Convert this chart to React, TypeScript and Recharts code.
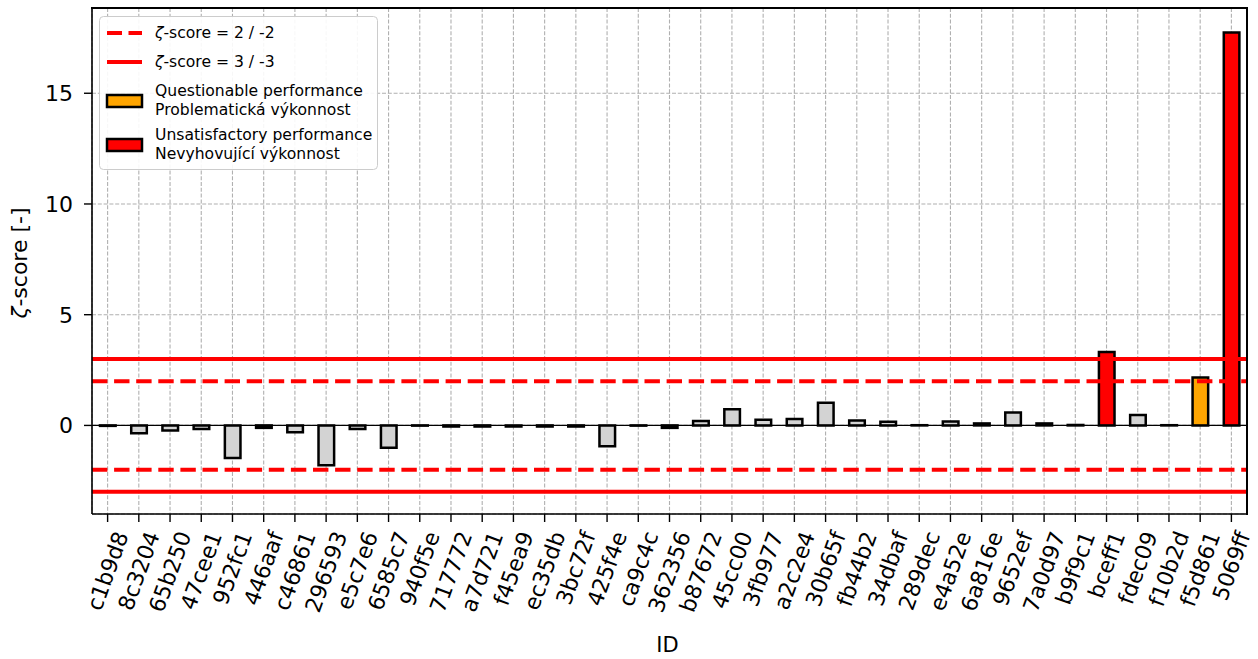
import React from "react";
import {
  BarChart,
  Bar,
  Cell,
  XAxis,
  YAxis,
  CartesianGrid,
  ReferenceLine,
  Legend,
  Label,
} from "recharts";

const ids = [
  "c1b9d8", "8c3204", "65b250", "47cee1", "952fc1", "446aaf", "c46861",
  "296593", "e5c7e6", "6585c7", "940f5e", "717772", "a7d721", "f45ea9",
  "ec35db", "3bc72f", "425f4e", "ca9c4c", "362356", "b87672", "45cc00",
  "3fb977", "a2c2e4", "30b65f", "fb44b2", "34dbaf", "289dec", "e4a52e",
  "6a816e", "9652ef", "7a0d97", "b9f9c1", "bceff1", "fdec09", "f10b2d",
  "f5d861", "5069ff",
];

const zScores = [
  -0.02, -0.35, -0.23, -0.16, -1.47, -0.11, -0.31, -1.8, -0.16, -1.01,
  -0.01, -0.05, -0.05, -0.05, -0.05, -0.05, -0.94, -0.01, -0.11, 0.2,
  0.73, 0.26, 0.29, 1.02, 0.22, 0.17, 0.01, 0.18, 0.09, 0.58, 0.09, 0.02,
  3.32, 0.47, 0.01, 2.16, 17.74,
];

const yTicks = [0, 5, 10, 15];
const yDomain = [-4.0, 18.85];
const warnLimit = 2;
const actionLimit = 3;

const data = ids.map((id, i) => ({ id, z: zScores[i] }));

const FONT = "'DejaVu Sans', sans-serif";
const RED = "#ff0000";
const ORANGE = "#ffa500";
const GREY = "#d3d3d3";

const W = 1258;
const H = 659;
const MARGIN = { top: 8, right: 11, bottom: 0, left: 0 };
const Y_AXIS_W = 92;
const X_AXIS_H = 145;

function barColor(z: number) {
  const a = Math.abs(z);
  if (a > actionLimit) return RED;
  if (a > warnLimit) return ORANGE;
  return GREY;
}

// rough DejaVu Sans advance widths (em) for hex labels
const charW: Record<string, number> = {
  a: 0.613, b: 0.635, c: 0.55, d: 0.635, e: 0.615, f: 0.352,
};
function textLen(s: string, fs: number) {
  let w = 0;
  for (const ch of s) w += charW[ch] ?? 0.636;
  return w * fs;
}

const TICK_FS = 22;

function XTick(props: any) {
  const { x, payload } = props;
  const label = String(payload.value);
  const L = textLen(label, TICK_FS);
  const h = 1.164 * TICK_FS;
  const ang = (70 * Math.PI) / 180;
  const bh = L * Math.sin(ang) + h * Math.cos(ang);
  const top = 528;
  const cy = top + bh / 2;
  return (
    <g transform={`translate(${x},${cy}) rotate(-70)`}>
      <text
        x={0}
        y={0.346 * TICK_FS}
        textAnchor="middle"
        fontSize={TICK_FS}
        fontFamily={FONT}
        fill="#000"
      >
        {label}
      </text>
    </g>
  );
}

function LegendBox() {
  const textStyle = { fontSize: 15.6, fontFamily: FONT, fill: "#000" } as const;
  return (
    <svg width={280} height={155} style={{ display: "block" }}>
      <rect
        x={0.5}
        y={0.5}
        width={278}
        height={153}
        rx={4}
        fill="rgba(255,255,255,0.9)"
        stroke="#cccccc"
      />
      <line x1={8} x2={43} y1={17} y2={17} stroke={RED} strokeWidth={4} strokeDasharray="15 6.5" />
      <text x={56} y={17} dy="0.35em" {...textStyle}>
        <tspan fontStyle="italic">ζ</tspan>-score = 2 / -2
      </text>
      <line x1={8} x2={43} y1={46} y2={46} stroke={RED} strokeWidth={4} />
      <text x={56} y={46} dy="0.35em" {...textStyle}>
        <tspan fontStyle="italic">ζ</tspan>-score = 3 / -3
      </text>
      <rect x={8} y={79} width={35} height={12} fill={ORANGE} stroke="#000" strokeWidth={2.5} />
      <text x={56} y={75} dy="0.35em" {...textStyle}>Questionable performance</text>
      <text x={56} y={94} dy="0.35em" {...textStyle}>Problematická výkonnost</text>
      <rect x={8} y={123} width={35} height={12} fill={RED} stroke="#000" strokeWidth={2.5} />
      <text x={56} y={119} dy="0.35em" {...textStyle}>Unsatisfactory performance</text>
      <text x={56} y={138} dy="0.35em" {...textStyle}>Nevyhovující výkonnost</text>
    </svg>
  );
}

export default function App() {
  const plotW = W - MARGIN.left - MARGIN.right - Y_AXIS_W;
  const plotH = H - MARGIN.top - MARGIN.bottom - X_AXIS_H;
  return (
    <div
      style={{
        position: "absolute",
        left: 0,
        top: 0,
        width: W,
        height: H,
        background: "#fff",
      }}
    >
      <BarChart
        width={W}
        height={H}
        data={data}
        margin={MARGIN}
        barCategoryGap={0}
      >
        <CartesianGrid
          stroke="#b0b0b0"
          strokeDasharray="4 1.8"
          strokeWidth={1.1}
        />
        <XAxis
          dataKey="id"
          interval={0}
          height={X_AXIS_H}
          tick={<XTick />}
          tickSize={8}
          tickLine={{ stroke: "#000", strokeWidth: 1.4 }}
          axisLine={{ stroke: "#000", strokeWidth: 1.6 }}
        >
          <Label
            content={(p: any) => {
              const vb = p.viewBox || { x: 92, width: 1155 };
              return (
                <text
                  x={vb.x + vb.width / 2 - 2}
                  y={652}
                  textAnchor="middle"
                  fontSize={21}
                  fontFamily={FONT}
                  fill="#000"
                >
                  ID
                </text>
              );
            }}
          />
        </XAxis>
        <YAxis
          type="number"
          domain={yDomain}
          ticks={yTicks}
          width={Y_AXIS_W}
          tickSize={8}
          tickMargin={11}
          tick={{ fontSize: TICK_FS, fontFamily: FONT, fill: "#000" }}
          tickLine={{ stroke: "#000", strokeWidth: 1.4 }}
          axisLine={{ stroke: "#000", strokeWidth: 1.6 }}
        >
          <Label
            content={(p: any) => {
              const vb = p.viewBox || { y: 8, height: 506 };
              const cy = vb.y + vb.height / 2 + 2;
              return (
                <text
                  x={27}
                  y={cy}
                  transform={`rotate(-90 27 ${cy})`}
                  textAnchor="middle"
                  fontSize={22}
                  fontFamily={FONT}
                  fill="#000"
                >
                  <tspan fontStyle="italic">ζ</tspan>-score [-]
                </text>
              );
            }}
          />
        </YAxis>
        <ReferenceLine y={actionLimit} stroke={RED} strokeWidth={4} />
        <ReferenceLine y={-actionLimit} stroke={RED} strokeWidth={4} />
        <ReferenceLine y={warnLimit} stroke={RED} strokeWidth={4} strokeDasharray="15.4 6.7" />
        <ReferenceLine y={-warnLimit} stroke={RED} strokeWidth={4} strokeDasharray="15.4 6.7" />
        <ReferenceLine y={0} stroke="#000" strokeWidth={1.3} />
        <Bar
          dataKey="z"
          barSize={15.6}
          stroke="#000"
          strokeWidth={2.5}
          isAnimationActive={false}
        >
          {data.map((d) => (
            <Cell key={d.id} fill={barColor(d.z)} />
          ))}
        </Bar>
        <Legend
          layout="horizontal"
          verticalAlign="middle"
          align="center"
          content={<LegendBox />}
          wrapperStyle={{ left: 99, top: 16, width: 280, height: 155 }}
        />
      </BarChart>
      {/* top and right spines of the plot frame */}
      <div
        style={{
          position: "absolute",
          left: MARGIN.left + Y_AXIS_W - 1,
          top: MARGIN.top - 1,
          width: plotW + 2,
          height: plotH + 2,
          boxSizing: "border-box",
          borderTop: "2px solid #000",
          borderRight: "2px solid #000",
          pointerEvents: "none",
        }}
      />
    </div>
  );
}
